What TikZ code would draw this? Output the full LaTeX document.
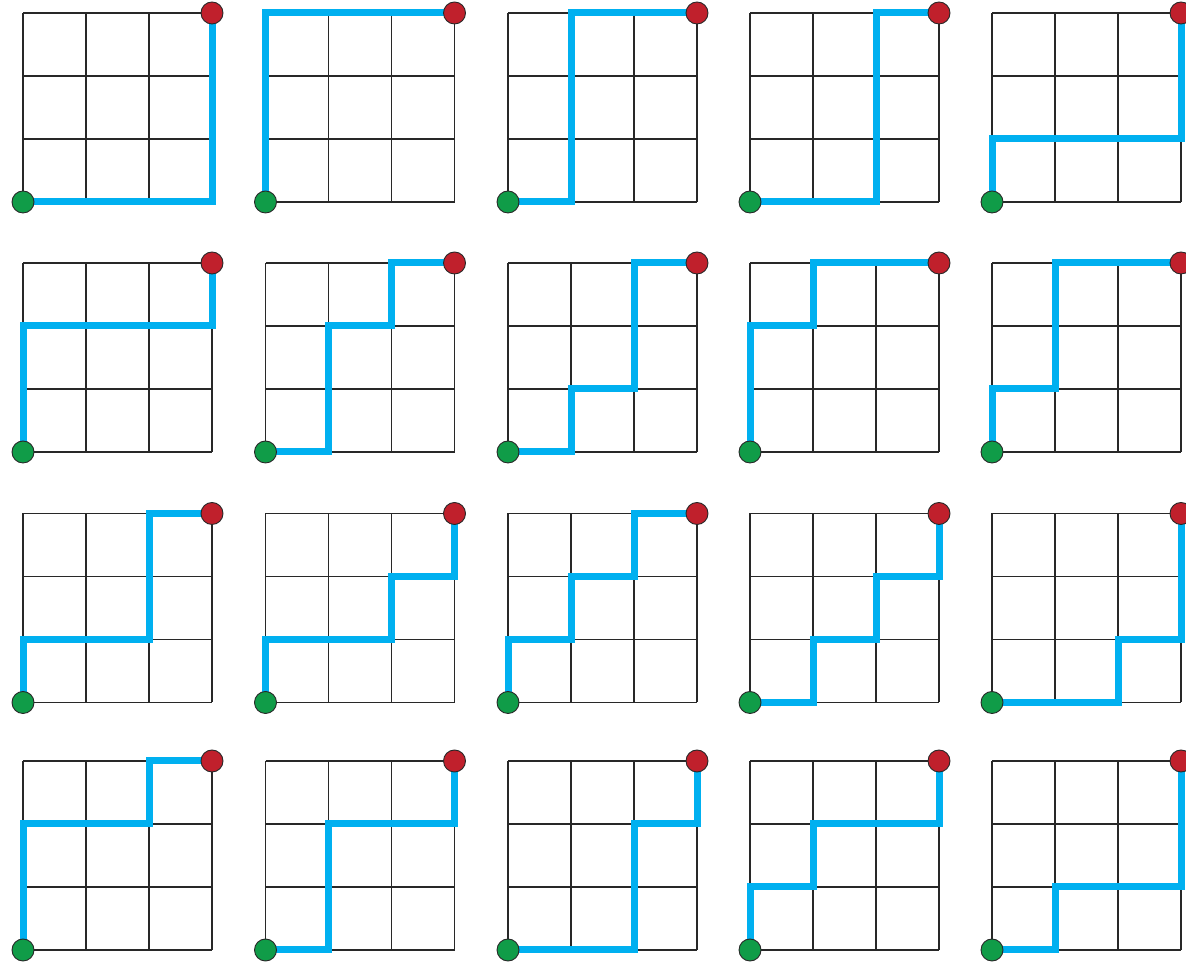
\documentclass[tikz,border=0pt]{standalone}
\usepackage{tikz}
\definecolor{routeblue}{RGB}{0,176,240}
\definecolor{startgreen}{RGB}{16,156,72}
\definecolor{endred}{RGB}{192,32,44}
\definecolor{gridgray}{RGB}{40,40,40}
\tikzset{
  gridline/.style={draw=gridgray, line width=1.3pt},
  route/.style={draw=routeblue, line width=7pt, line join=miter, line cap=butt},
  startdot/.style={circle, fill=startgreen, draw=gridgray, line width=0.9pt, minimum size=22pt, inner sep=0pt},
  enddot/.style={circle, fill=endred, draw=gridgray, line width=0.9pt, minimum size=22pt, inner sep=0pt}
}
\newcommand\lattice[4]{%
  \begin{scope}[shift={(#2pt,#3pt)}, x=63pt, y=63pt]
    \foreach \k in {0,1,2,3} {
      \draw[gridline] (\k,0) -- (\k,3);
      \draw[gridline] (0,\k) -- (3,\k);
    }
    \coordinate (#1s) at (0,0);
    \coordinate (#1e) at (3,3);
    \draw[route] (#1s) -- #4 -- (#1e);
    \node[startdot] (#1a) at (#1s) {};
    \node[enddot] (#1b) at (#1e) {};
  \end{scope}}
\begin{document}
\begin{tikzpicture}[x=1pt, y=1pt]
  \useasboundingbox (0,0) rectangle (1186,963);
  % row 1
  \lattice{p1}{23}{761}{(3,0)}
  \lattice{p2}{265.5}{761}{(0,3)}
  \lattice{p3}{508}{761}{(1,0) -- (1,3)}
  \lattice{p4}{750}{761}{(2,0) -- (2,3)}
  \lattice{p5}{992}{761}{(0,1) -- (3,1)}
  % row 2
  \lattice{p6}{23}{511}{(0,2) -- (3,2)}
  \lattice{p7}{265.5}{511}{(1,0) -- (1,2) -- (2,2) -- (2,3)}
  \lattice{p8}{508}{511}{(1,0) -- (1,1) -- (2,1) -- (2,3)}
  \lattice{p9}{750}{511}{(0,2) -- (1,2) -- (1,3)}
  \lattice{p10}{992}{511}{(0,1) -- (1,1) -- (1,3)}
  % row 3
  \lattice{p11}{23}{260.5}{(0,1) -- (2,1) -- (2,3)}
  \lattice{p12}{265.5}{260.5}{(0,1) -- (2,1) -- (2,2) -- (3,2)}
  \lattice{p13}{508}{260.5}{(0,1) -- (1,1) -- (1,2) -- (2,2) -- (2,3)}
  \lattice{p14}{750}{260.5}{(1,0) -- (1,1) -- (2,1) -- (2,2) -- (3,2)}
  \lattice{p15}{992}{260.5}{(2,0) -- (2,1) -- (3,1)}
  % row 4
  \lattice{p16}{23}{13}{(0,2) -- (2,2) -- (2,3)}
  \lattice{p17}{265.5}{13}{(1,0) -- (1,2) -- (3,2)}
  \lattice{p18}{508}{13}{(2,0) -- (2,2) -- (3,2)}
  \lattice{p19}{750}{13}{(0,1) -- (1,1) -- (1,2) -- (3,2)}
  \lattice{p20}{992}{13}{(1,0) -- (1,1) -- (3,1)}
\end{tikzpicture}
\end{document}
